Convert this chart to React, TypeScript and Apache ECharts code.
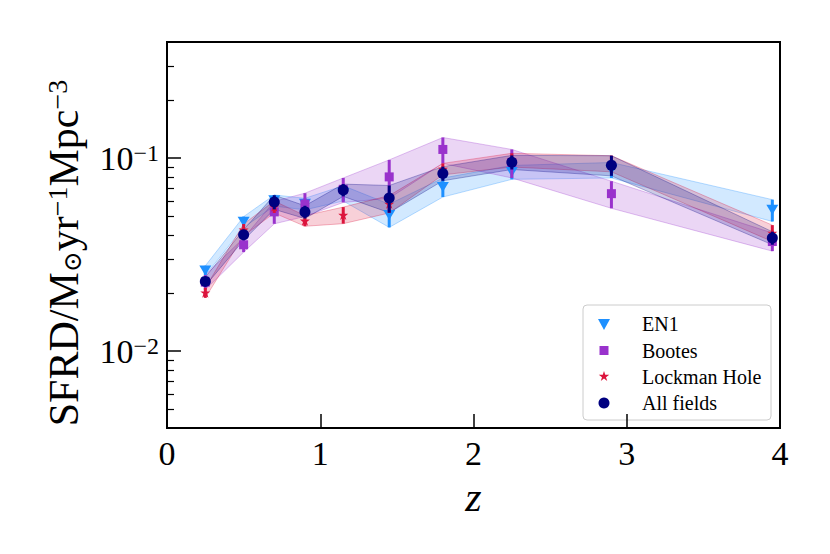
import React, { useEffect, useRef } from 'react';
import * as echarts from 'echarts';

// ---- data ----
const redshift = [0.25, 0.5, 0.7, 0.9, 1.15, 1.45, 1.8, 2.25, 2.9, 3.95];

const en1 = [0.0262, 0.0468, 0.0605, 0.058, 0.066, 0.0508, 0.0709, 0.0847, 0.087, 0.054];
const en1Err = [0.0015, 0.003, 0.004, 0.004, 0.006, 0.007, 0.008, 0.007, 0.008, 0.007];

const bootes = [0.0228, 0.0356, 0.0527, 0.0579, 0.069, 0.08, 0.111, 0.095, 0.0655, 0.037];
const bootesErr = [0.002, 0.003, 0.007, 0.008, 0.01, 0.018, 0.017, 0.016, 0.0105, 0.004];

const lockman = [0.0201, 0.0426, 0.056, 0.0474, 0.0508, 0.058, 0.088, 0.098, 0.094, 0.041];
const lockmanErr = [0.0012, 0.003, 0.004, 0.003, 0.005, 0.006, 0.006, 0.008, 0.009, 0.004];

const allFields = [0.023, 0.0401, 0.0593, 0.0527, 0.0684, 0.0622, 0.0834, 0.0954, 0.092, 0.0386];
const allFieldsErr = [0.0012, 0.0025, 0.005, 0.004, 0.005, 0.01, 0.007, 0.008, 0.011, 0.003];

const seriesNames = ['EN1', 'Bootes', 'Lockman Hole', 'All fields'];
const seriesColors = ['#1E90FF', '#9932CC', '#DC143C', '#000080'];

const xTicks = [0, 1, 2, 3, 4];
const yMajorTicks = [0.01, 0.1];
const yMinorTicks = [0.005, 0.006, 0.007, 0.008, 0.009, 0.02, 0.03, 0.04, 0.05, 0.06, 0.07, 0.08, 0.09, 0.2, 0.3];

const FONT = "'Liberation Serif', 'DejaVu Serif', serif";

function rgba(hex: string, a: number) {
  const n = parseInt(hex.slice(1), 16);
  return `rgba(${(n >> 16) & 255},${(n >> 8) & 255},${n & 255},${a})`;
}

function starPoints(cx: number, cy: number, r: number): number[][] {
  const pts: number[][] = [];
  const inner = r * 0.382;
  for (let k = 0; k < 10; k++) {
    const ang = -Math.PI / 2 + (k * Math.PI) / 5;
    const rr = k % 2 === 0 ? r : inner;
    pts.push([cx + rr * Math.cos(ang), cy + rr * Math.sin(ang)]);
  }
  return pts;
}
const starPath =
  'path://' +
  starPoints(0, 0, 10)
    .map((p, i) => (i === 0 ? 'M' : 'L') + p[0].toFixed(3) + ' ' + p[1].toFixed(3))
    .join(' ') +
  ' Z';

const datasets = [
  { name: seriesNames[0], vals: en1, err: en1Err, color: seriesColors[0], symbol: 'triangle', rotate: 180, size: [12, 10] },
  { name: seriesNames[1], vals: bootes, err: bootesErr, color: seriesColors[1], symbol: 'rect', rotate: 0, size: [9, 9] },
  { name: seriesNames[2], vals: lockman, err: lockmanErr, color: seriesColors[2], symbol: starPath, rotate: 0, size: [10, 10] },
  { name: seriesNames[3], vals: allFields, err: allFieldsErr, color: seriesColors[3], symbol: 'circle', rotate: 0, size: [11, 11] },
];

export default function App() {
  const ref = useRef<HTMLDivElement>(null);

  useEffect(() => {
    if (!ref.current) return;
    const chart = echarts.init(ref.current, null, { renderer: 'svg' });

    const series: any[] = [];
    // bands
    datasets.forEach((d) => {
      series.push({
        type: 'custom',
        name: d.name + ' band',
        silent: true,
        data: [[redshift[0], d.vals[0]]],
        encode: { x: 0, y: 1 },
        z: 1,
        renderItem: (_p: any, api: any) => {
          const upper = d.vals.map((v, i) => api.coord([redshift[i], v + d.err[i]]));
          const lower = d.vals.map((v, i) => api.coord([redshift[i], v - d.err[i]])).reverse();
          return {
            type: 'polygon',
            shape: { points: upper.concat(lower) },
            style: { fill: rgba(d.color, 0.2), stroke: rgba(d.color, 0.3), lineWidth: 1 },
          };
        },
      });
    });
    // error bars + markers
    datasets.forEach((d, k) => {
      series.push({
        type: 'custom',
        name: d.name + ' err',
        silent: true,
        data: redshift.map((zv, i) => [zv, d.vals[i], d.err[i]]),
        dimensions: ['x', 'y', 'e'],
        encode: { x: 0, y: 1 },
        z: 2 + k * 2,
        renderItem: (_p: any, api: any) => {
          const zv = api.value(0);
          const v = api.value(1);
          const e = api.value(2);
          const p1 = api.coord([zv, v + e]);
          const p2 = api.coord([zv, v - e]);
          return {
            type: 'line',
            shape: { x1: p1[0], y1: p1[1], x2: p2[0], y2: p2[1] },
            style: { stroke: d.color, lineWidth: 3 },
          };
        },
      });
      series.push({
        type: 'scatter',
        name: d.name,
        data: redshift.map((zv, i) => [zv, d.vals[i]]),
        symbol: d.symbol,
        symbolRotate: d.rotate,
        symbolSize: d.size,
        itemStyle: { color: d.color, opacity: 1 },
        z: 3 + k * 2,
        silent: true,
      });
    });

    // legend drawn as graphic
    const legX = 583, legY = 305, legW = 188, legH = 115;
    const rowY = [324, 350.5, 376.5, 403];
    const mx = 604, tx = 642;
    const legendChildren: any[] = [
      {
        type: 'rect',
        shape: { x: legX, y: legY, width: legW, height: legH, r: 4 },
        style: { fill: 'rgba(255,255,255,0.8)', stroke: '#cccccc', lineWidth: 1 },
      },
      {
        type: 'polygon',
        shape: { points: [[mx - 6, rowY[0] - 5], [mx + 6, rowY[0] - 5], [mx, rowY[0] + 6]] },
        style: { fill: seriesColors[0] },
      },
      { type: 'rect', shape: { x: mx - 4.5, y: rowY[1] - 4.5, width: 9, height: 9 }, style: { fill: seriesColors[1] } },
      { type: 'polygon', shape: { points: starPoints(mx, rowY[2], 5.5) }, style: { fill: seriesColors[2] } },
      { type: 'circle', shape: { cx: mx, cy: rowY[3], r: 5.5 }, style: { fill: seriesColors[3] } },
    ];
    seriesNames.forEach((n, i) => {
      legendChildren.push({
        type: 'text',
        x: tx,
        y: rowY[i],
        style: {
          text: `{t|${n}}`,
          rich: { t: { fontSize: 20, fontFamily: FONT, fill: '#000' } },
          fontSize: 20, fontFamily: FONT, fill: '#000',
          verticalAlign: 'middle', align: 'left',
        },
      });
    });

    const option: any = {
      animation: false,
      backgroundColor: '#fff',
      grid: {
        left: 167, right: 50, top: 42, bottom: 126,
        show: true, borderColor: '#000', borderWidth: 2, backgroundColor: 'transparent',
      },
      xAxis: {
        type: 'value', min: 0, max: 4, interval: 1,
        axisLine: { show: false, onZero: false },
        axisTick: { show: true, inside: true, length: 14, lineStyle: { color: '#000', width: 1.5 }, customValues: xTicks },
        axisLabel: { fontSize: 34, fontFamily: FONT, color: '#000', margin: 8, customValues: xTicks },
        splitLine: { show: false },
        name: '{i|z}', nameLocation: 'middle', nameGap: 48,
        nameTextStyle: {
          rich: {
            i: { fontSize: 42, fontFamily: FONT, fontStyle: 'italic', color: '#000' },
          },
        },
      },
      yAxis: [
        {
          type: 'log', logBase: 10, min: 0.004, max: 0.4,
          axisLine: { show: false },
          axisTick: { show: true, inside: true, length: 14, lineStyle: { color: '#000', width: 1.5 }, customValues: yMajorTicks },
          axisLabel: {
            customValues: yMajorTicks, margin: 8, color: '#000',
            formatter: (v: number) => `{b|10}{s|−${-Math.round(Math.log10(v))}}`,
            rich: {
              b: { fontSize: 34, fontFamily: FONT, color: '#000', lineHeight: 34 },
              s: { fontSize: 24, fontFamily: FONT, color: '#000', lineHeight: 24, verticalAlign: 'top' },
            },
          },
          splitLine: { show: false },
          minorTick: { show: false },
          name: '{a|SFRD/M}{o|⊙}{a|yr}{p|−1}{a|Mpc}{p|−3}',
          nameLocation: 'middle', nameRotate: 90, nameGap: 82,
          nameTextStyle: {
            padding: [0, 36, 0, 0],
            rich: {
              a: { fontSize: 42, fontFamily: FONT, color: '#000', lineHeight: 42 },
              p: { fontSize: 28, fontFamily: FONT, color: '#000', lineHeight: 28, verticalAlign: 'top' },
              o: { fontSize: 25, fontFamily: FONT, color: '#000', lineHeight: 25, verticalAlign: 'bottom' },
            },
          },
        },
        {
          type: 'log', logBase: 10, min: 0.004, max: 0.4, position: 'left',
          axisLine: { show: false },
          axisTick: { show: true, inside: true, length: 7, lineStyle: { color: '#000', width: 1.2 }, customValues: yMinorTicks },
          axisLabel: { show: false },
          splitLine: { show: false },
        },
      ],
      graphic: [{ type: 'group', children: legendChildren, z: 100 }],
      series,
    };

    chart.setOption(option);
    return () => chart.dispose();
  }, []);

  return (
    <div
      ref={ref}
      style={{ position: 'fixed', left: 0, top: 0, width: 830, height: 554, background: '#fff' }}
    />
  );
}
